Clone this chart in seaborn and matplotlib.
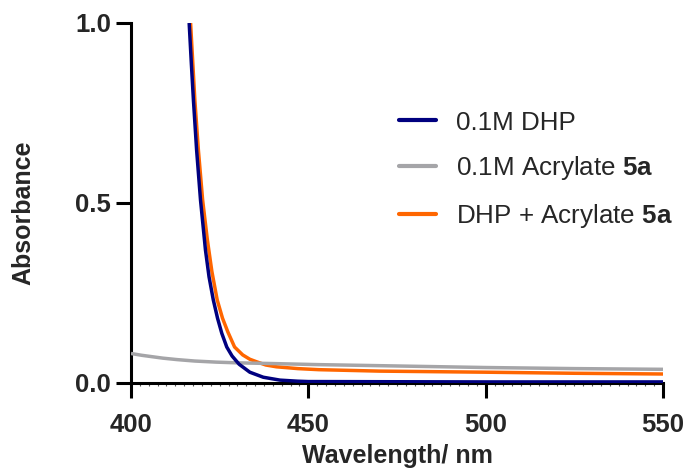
import matplotlib
matplotlib.use("Agg")
import matplotlib.pyplot as plt
from matplotlib.ticker import MultipleLocator
import seaborn as sns
import pandas as pd

# UV-vis absorbance spectra (wavelength in nm, absorbance)
dhp_wl = [416.4, 417.0, 417.6, 418.5, 419.6, 421.0, 422.0, 423.2, 424.4, 425.6,
          427.0, 428.5, 430.5, 433.5, 437.3, 442.0, 447.0, 450.0, 500.0, 550.0]
dhp_abs = [1.000, 0.890, 0.786, 0.647, 0.508, 0.369, 0.295, 0.231, 0.180, 0.138,
           0.100, 0.075, 0.052, 0.030, 0.016, 0.008, 0.005, 0.004, 0.003, 0.003]

acr_wl = [400, 403, 406, 409, 413, 418, 424, 430, 440, 453, 465, 500, 525, 550]
acr_abs = [0.082, 0.077, 0.073, 0.069, 0.065, 0.061, 0.058, 0.056, 0.054, 0.051,
           0.049, 0.043, 0.040, 0.038]

mix_wl = [416.8, 418.0, 419.0, 420.2, 421.5, 422.8, 424.3, 425.8, 427.3, 429.2,
          431.5, 433.5, 435.4, 438.0, 441.0, 447.0, 453.0, 470.0, 500.0, 525.0, 550.0]
mix_abs = [1.000, 0.786, 0.647, 0.508, 0.400, 0.310, 0.231, 0.180, 0.142, 0.100,
           0.078, 0.066, 0.059, 0.050, 0.045, 0.040, 0.037, 0.033, 0.030, 0.027, 0.025]

series_names = ["0.1M DHP", "0.1M Acrylate $\\mathbf{5a}$", "DHP + Acrylate $\\mathbf{5a}$"]
series_colors = ["#00007f", "#a5a5a8", "#ff6600"]

x_ticks = [400, 450, 500, 550]
y_ticks = [0.0, 0.5, 1.0]
y_tick_labels = ["0.0", "0.5", "1.0"]

frames = []
for name, wl, ab in zip(series_names, [dhp_wl, acr_wl, mix_wl], [dhp_abs, acr_abs, mix_abs]):
    frames.append(pd.DataFrame({"Wavelength": wl, "Absorbance": ab, "Sample": name}))
df = pd.concat(frames, ignore_index=True)

sns.set_style("white")
plt.rcParams["font.family"] = ["Liberation Sans", "DejaVu Sans"]
plt.rcParams["mathtext.fontset"] = "custom"
plt.rcParams["mathtext.rm"] = "Liberation Sans"
plt.rcParams["mathtext.bf"] = "Liberation Sans:bold"

fig = plt.figure(figsize=(6.89, 4.74), dpi=100)
ax = fig.add_axes([131 / 689, 1 - 383 / 474, 532 / 689, 360 / 474])

sns.lineplot(data=df, x="Wavelength", y="Absorbance", hue="Sample",
             hue_order=series_names, palette=series_colors,
             sort=False, estimator=None, linewidth=2.5, ax=ax)

# navy trace on top, then grey, then orange
for line, z in zip(ax.get_lines()[:3], [3.3, 3.2, 3.1]):
    line.set_zorder(z)
    line.set_solid_capstyle("butt")

ax.set_xlim(400, 550)
ax.set_ylim(0, 1.0)
ax.set_xticks(x_ticks)
ax.set_xticklabels([str(t) for t in x_ticks])
ax.set_yticks(y_ticks)
ax.set_yticklabels(y_tick_labels)
ax.xaxis.set_minor_locator(MultipleLocator(2.5))

for side in ["top", "right"]:
    ax.spines[side].set_visible(False)
for side in ["left", "bottom"]:
    ax.spines[side].set_linewidth(2.2)
    ax.spines[side].set_color("black")

ax.tick_params(axis="both", which="major", direction="out", length=10.8, width=2.2,
               color="black", labelsize=18.5)
ax.tick_params(axis="x", which="major", pad=11, bottom=True)
ax.tick_params(axis="y", which="major", pad=3.5, left=True)
ax.tick_params(axis="x", which="minor", direction="out", length=2.5, width=0.8,
               color="#555555", bottom=True)
for lbl in ax.get_xticklabels() + ax.get_yticklabels():
    lbl.set_fontweight("bold")

ax.set_xlabel("Wavelength/ nm", fontsize=18, fontweight="bold", labelpad=5)
ax.set_ylabel("Absorbance", fontsize=18, fontweight="bold")
ax.yaxis.set_label_coords(-0.18, 0.472)

handles, labels = ax.get_legend_handles_labels()
ax.legend(handles[:3], labels[:3], frameon=False, fontsize=18.7,
          loc="upper left", bbox_to_anchor=(399 / 689, 1 - 110.5 / 474),
          bbox_transform=fig.transFigure, borderpad=0, borderaxespad=0,
          handlelength=1.42, handletextpad=0.78, labelspacing=0.76)
for line in ax.get_legend().get_lines():
    line.set_linewidth(3.0)

fig.savefig("out.png", dpi=100)
